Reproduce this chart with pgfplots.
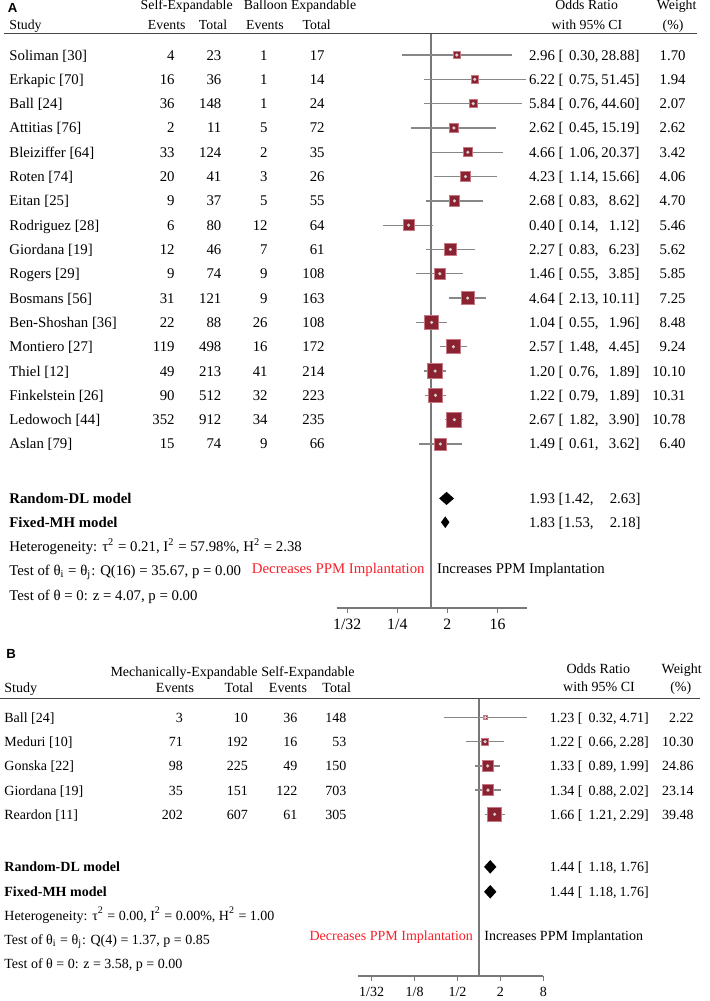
\documentclass[border=0pt]{standalone}
\usepackage{fontspec}
\setmainfont{Liberation Serif}
\newfontfamily\lsans{Liberation Sans}
\usepackage{pgfplots}
\pgfplotsset{compat=1.18}
\usepackage{pgfplotstable}

\definecolor{mk}{RGB}{139,34,50}
\definecolor{mkb}{RGB}{200,120,130}
\definecolor{cig}{RGB}{135,135,135}
\definecolor{dotc}{RGB}{210,210,210}
\definecolor{vl}{RGB}{120,120,120}
\definecolor{rulec}{RGB}{70,70,70}
\definecolor{redt}{RGB}{250,30,40}

\newcommand{\fb}{\fontsize{7.4pt}{8pt}\selectfont}
\newcommand{\fh}{\fontsize{6.9pt}{8pt}\selectfont}
\newcommand{\fbB}{\fontsize{7.0pt}{8pt}\selectfont}

% Panel A: row (negative index), OR, lower, upper, weight, mark size (pt)
\pgfplotstableread{
row or lo hi w ms
-1 2.96 0.30 28.88 1.70 1.80
-2 6.22 0.75 51.45 1.94 1.88
-3 5.84 0.76 44.60 2.07 1.93
-4 2.62 0.45 15.19 2.62 2.11
-5 4.66 1.06 20.37 3.42 2.34
-6 4.23 1.14 15.66 4.06 2.50
-7 2.68 0.83 8.62 4.70 2.65
-8 0.40 0.14 1.12 5.46 2.82
-9 2.27 0.83 6.23 5.62 2.85
-10 1.46 0.55 3.85 5.85 2.90
-11 4.64 2.13 10.11 7.25 3.17
-12 1.04 0.55 1.96 8.48 3.39
-13 2.57 1.48 4.45 9.24 3.52
-14 1.20 0.76 1.89 10.10 3.66
-15 1.22 0.79 1.89 10.31 3.69
-16 2.67 1.82 3.90 10.78 3.76
-17 1.49 0.61 3.62 6.40 3.01
}\dataA

\pgfplotstableread{
row or lo hi w ms
-1 1.23 0.32 4.71 2.22 0.85
-2 1.22 0.66 2.28 10.30 1.85
-3 1.33 0.89 1.99 24.86 2.88
-4 1.34 0.88 2.02 23.14 2.78
-5 1.66 1.21 2.29 39.48 3.60
}\dataB

\pgfplotsset{
  cil/.style={cig, line width=0.65pt, mark=none, forget plot},
  sq/.style={scatter, only marks, mark=square*,
    scatter/use mapped color={draw=mkb, fill=mk},
    line width=0.45pt,
    visualization depends on={\thisrow{ms}\as\msz},
    scatter/@pre marker code/.append style={/tikz/mark size=\msz pt}},
  dt/.style={scatter, only marks, mark=*, mark size=0.75pt,
    scatter/use mapped color={draw=dotc, fill=dotc}, line width=0.1pt},
}

\begin{document}
\begin{tikzpicture}
\useasboundingbox (0,0) rectangle (354.5pt,-500.5pt);

% ---------------- Panel A plot ----------------
\begin{axis}[
  scale only axis, clip=false, xmode=log, log basis x=2,
  axis x line=bottom, axis y line=none,
  tick align=outside, major tick length=2.4pt,
  xtick style={draw=vl, line width=0.6pt},
  minor xtick={}, ytick=\empty,
  at={(168.35pt,-303.85pt)}, anchor=south west,
  width=95pt, height=287.2pt,
  xmin=0.02019, xmax=53.77, ymin=-23.735, ymax=-0.107,
  x axis line style={-, draw=vl, line width=0.9pt},
  xtick={0.03125,0.25,2,16}, xticklabels={1/32,1/4,2,16},
  xticklabel style={font=\fontsize{7.9pt}{8pt}\selectfont, anchor=base, yshift=-8.3pt, inner sep=0pt},
]
\addplot[vl, line width=0.9pt, mark=none] coordinates {(1,-0.107) (1,-23.735)};
\addplot[cil] coordinates {(0.30,-1) (28.88,-1)};
\addplot[cil] coordinates {(0.75,-2) (51.45,-2)};
\addplot[cil] coordinates {(0.76,-3) (44.60,-3)};
\addplot[cil] coordinates {(0.45,-4) (15.19,-4)};
\addplot[cil] coordinates {(1.06,-5) (20.37,-5)};
\addplot[cil] coordinates {(1.14,-6) (15.66,-6)};
\addplot[cil] coordinates {(0.83,-7) (8.62,-7)};
\addplot[cil] coordinates {(0.14,-8) (1.12,-8)};
\addplot[cil] coordinates {(0.83,-9) (6.23,-9)};
\addplot[cil] coordinates {(0.55,-10) (3.85,-10)};
\addplot[cil] coordinates {(2.13,-11) (10.11,-11)};
\addplot[cil] coordinates {(0.55,-12) (1.96,-12)};
\addplot[cil] coordinates {(1.48,-13) (4.45,-13)};
\addplot[cil] coordinates {(0.76,-14) (1.89,-14)};
\addplot[cil] coordinates {(0.79,-15) (1.89,-15)};
\addplot[cil] coordinates {(1.82,-16) (3.90,-16)};
\addplot[cil] coordinates {(0.61,-17) (3.62,-17)};
\addplot[sq] table[x=or, y=row] {\dataA};
\addplot[dt] table[x=or, y=row] {\dataA};
\addplot[fill=black, draw=none, mark=none] coordinates {(1.42,-19.24) (1.93,-18.97) (2.63,-19.24) (1.93,-19.51)} --cycle;
\addplot[fill=black, draw=none, mark=none] coordinates {(1.53,-20.22) (1.83,-19.98) (2.18,-20.22) (1.83,-20.46)} --cycle;
\end{axis}

% ---------------- Panel B plot ----------------
\begin{axis}[
  scale only axis, clip=false, xmode=log, log basis x=2,
  axis x line=bottom, axis y line=none,
  tick align=outside, major tick length=2.4pt,
  xtick style={draw=vl, line width=0.6pt},
  minor xtick={}, ytick=\empty,
  at={(179.15pt,-488pt)}, anchor=south west,
  width=92.5pt, height=138.85pt,
  xmin=0.02030, xmax=8, ymin=-11.68, ymax=-0.207,
  x axis line style={-, draw=vl, line width=0.7pt},
  xtick={0.03125,0.125,0.5,2,8}, xticklabels={1/32,1/8,1/2,2,8},
  xticklabel style={font=\fontsize{7.0pt}{8pt}\selectfont, anchor=base, yshift=-7.6pt, inner sep=0pt},
]
\addplot[vl, line width=0.7pt, mark=none] coordinates {(1,-0.207) (1,-11.68)};
\addplot[cil] coordinates {(0.32,-1) (4.71,-1)};
\addplot[cil] coordinates {(0.66,-2) (2.28,-2)};
\addplot[cil] coordinates {(0.89,-3) (1.99,-3)};
\addplot[cil] coordinates {(0.88,-4) (2.02,-4)};
\addplot[cil] coordinates {(1.21,-5) (2.29,-5)};
\addplot[sq] table[x=or, y=row] {\dataB};
\addplot[dt] table[x=or, y=row] {\dataB};
\addplot[fill=black, draw=none, mark=none] coordinates {(1.18,-7.17) (1.44,-6.89) (1.76,-7.17) (1.44,-7.45)} --cycle;
\addplot[fill=black, draw=none, mark=none] coordinates {(1.18,-8.20) (1.44,-7.92) (1.76,-8.20) (1.44,-8.48)} --cycle;
\end{axis}

% ---------------- Text (pixel grid: 1px = 0.5pt, y down) ----------------
\begin{scope}[x=0.5pt, y=-0.5pt, every node/.style={inner sep=0pt, font=\fb}]
% Panel A header
\node[anchor=base west, font=\lsans\bfseries\fontsize{6.6pt}{8pt}\selectfont] at (7.5,12.5) {A};
\node[anchor=base, font=\fh] at (186.7,10) {Self-Expandable};
\node[anchor=base, font=\fh] at (300,10) {Balloon Expandable};
\node[anchor=base west, font=\fh] at (9,29.5) {Study};
\node[anchor=base, font=\fh] at (166.7,29.5) {Events};
\node[anchor=base, font=\fh] at (213,29.5) {Total};
\node[anchor=base, font=\fh] at (265,29.5) {Events};
\node[anchor=base, font=\fh] at (316.7,29.5) {Total};
\node[anchor=base, font=\fh] at (586.7,10) {Odds Ratio};
\node[anchor=base, font=\fh] at (587,29.5) {with 95\% CI};
\node[anchor=base, font=\fh] at (676.7,10) {Weight};
\node[anchor=base, font=\fh] at (673,29.5) {(\%)};
\draw[rulec, line width=0.75pt] (4,33.3) -- (697,33.3);

\foreach [count=\i] \nm/\ea/\ta/\eb/\tb/\est/\vlo/\vhi/\wt in {
 {Soliman [30]}/4/23/1/17/2.96/0.30/28.88/1.70,
 {Erkapic [70]}/16/36/1/14/6.22/0.75/51.45/1.94,
 {Ball [24]}/36/148/1/24/5.84/0.76/44.60/2.07,
 {Attitias [76]}/2/11/5/72/2.62/0.45/15.19/2.62,
 {Bleiziffer [64]}/33/124/2/35/4.66/1.06/20.37/3.42,
 {Roten [74]}/20/41/3/26/4.23/1.14/15.66/4.06,
 {Eitan [25]}/9/37/5/55/2.68/0.83/8.62/4.70,
 {Rodriguez [28]}/6/80/12/64/0.40/0.14/1.12/5.46,
 {Giordana [19]}/12/46/7/61/2.27/0.83/6.23/5.62,
 {Rogers [29]}/9/74/9/108/1.46/0.55/3.85/5.85,
 {Bosmans [56]}/31/121/9/163/4.64/2.13/10.11/7.25,
 {Ben-Shoshan [36]}/22/88/26/108/1.04/0.55/1.96/8.48,
 {Montiero [27]}/119/498/16/172/2.57/1.48/4.45/9.24,
 {Thiel [12]}/49/213/41/214/1.20/0.76/1.89/10.10,
 {Finkelstein [26]}/90/512/32/223/1.22/0.79/1.89/10.31,
 {Ledowoch [44]}/352/912/34/235/2.67/1.82/3.90/10.78,
 {Aslan [79]}/15/74/9/66/1.49/0.61/3.62/6.40}
{
 \pgfmathsetmacro\yy{60+24.31*(\i-1)}
 \node[anchor=base west] at (9,\yy) {\nm};
 \node[anchor=base east] at (175,\yy) {\ea};
 \node[anchor=base east] at (221.7,\yy) {\ta};
 \node[anchor=base east] at (268,\yy) {\eb};
 \node[anchor=base east] at (325,\yy) {\tb};
 \node[anchor=base east] at (564,\yy) {\est\ [};
 \node[anchor=base east] at (599,\yy) {\vlo,};
 \node[anchor=base east] at (640,\yy) {\vhi]};
 \node[anchor=base east] at (686,\yy) {\wt};
}
\node[anchor=base west, font=\fb\bfseries] at (9,503.3) {Random-DL model};
\node[anchor=base west, font=\fb\bfseries] at (9,527.5) {Fixed-MH model};
\node[anchor=base east] at (564,503.3) {1.93 [};
\node[anchor=base east] at (594,503.3) {1.42,};
\node[anchor=base east] at (641,503.3) {2.63]};
\node[anchor=base east] at (564,527.5) {1.83 [};
\node[anchor=base east] at (594,527.5) {1.53,};
\node[anchor=base east] at (641,527.5) {2.18]};
\node[anchor=base west] at (9,551.7) {Heterogeneity: τ\textsuperscript{2} = 0.21, I\textsuperscript{2} = 57.98\%, H\textsuperscript{2} = 2.38};
\node[anchor=base west] at (9,575.3) {Test of θ\textsubscript{i} = θ\textsubscript{j}: Q(16) = 35.67, p = 0.00};
\node[anchor=base west] at (9,600) {Test of θ = 0: z = 4.07, p = 0.00};
\node[anchor=base east, text=redt] at (425,573.3) {Decreases PPM Implantation};
\node[anchor=base west] at (436.7,573.3) {Increases PPM Implantation};

% Panel B header
\node[anchor=base west, font=\lsans\bfseries\fontsize{6.6pt}{8pt}\selectfont] at (6,658.5) {B};
\node[anchor=base, font=\fbB] at (184,676) {Mechanically-Expandable};
\node[anchor=base, font=\fbB] at (308,676) {Self-Expandable};
\node[anchor=base west, font=\fbB] at (4,692) {Study};
\node[anchor=base, font=\fbB] at (175,692) {Events};
\node[anchor=base, font=\fbB] at (239,692) {Total};
\node[anchor=base, font=\fbB] at (288,692) {Events};
\node[anchor=base, font=\fbB] at (336.7,692) {Total};
\node[anchor=base, font=\fbB] at (598.3,673) {Odds Ratio};
\node[anchor=base, font=\fbB] at (599,691.5) {with 95\% CI};
\node[anchor=base, font=\fbB] at (681.7,673) {Weight};
\node[anchor=base, font=\fbB] at (680.8,691.5) {(\%)};
\draw[rulec, line width=0.75pt] (0,698.3) -- (700,698.3);

\foreach [count=\i] \nm/\ea/\ta/\eb/\tb/\est/\vlo/\vhi/\wt in {
 {Ball [24]}/3/10/36/148/1.23/0.32/4.71/2.22,
 {Meduri [10]}/71/192/16/53/1.22/0.66/2.28/10.30,
 {Gonska [22]}/98/225/49/150/1.33/0.89/1.99/24.86,
 {Giordana [19]}/35/151/122/703/1.34/0.88/2.02/23.14,
 {Reardon [11]}/202/607/61/305/1.66/1.21/2.29/39.48}
{
 \pgfmathsetmacro\yy{722.5+24.2*(\i-1)}
 \node[anchor=base west, font=\fbB] at (4,\yy) {\nm};
 \node[anchor=base east, font=\fbB] at (183.3,\yy) {\ea};
 \node[anchor=base east, font=\fbB] at (248.3,\yy) {\ta};
 \node[anchor=base east, font=\fbB] at (297.7,\yy) {\eb};
 \node[anchor=base east, font=\fbB] at (346.7,\yy) {\tb};
 \node[anchor=base east, font=\fbB] at (583,\yy) {\est\ [};
 \node[anchor=base east, font=\fbB] at (617,\yy) {\vlo,};
 \node[anchor=base east, font=\fbB] at (649.3,\yy) {\vhi]};
 \node[anchor=base east, font=\fbB] at (694,\yy) {\wt};
}
\node[anchor=base west, font=\fbB\bfseries] at (4,871.7) {Random-DL model};
\node[anchor=base west, font=\fbB\bfseries] at (4,896.7) {Fixed-MH model};
\node[anchor=base east, font=\fbB] at (583,871.7) {1.44 [};
\node[anchor=base east, font=\fbB] at (617,871.7) {1.18,};
\node[anchor=base east, font=\fbB] at (649.3,871.7) {1.76]};
\node[anchor=base east, font=\fbB] at (583,896.7) {1.44 [};
\node[anchor=base east, font=\fbB] at (617,896.7) {1.18,};
\node[anchor=base east, font=\fbB] at (649.3,896.7) {1.76]};
\node[anchor=base west, font=\fbB] at (4,920) {Heterogeneity: τ\textsuperscript{2} = 0.00, I\textsuperscript{2} = 0.00\%, H\textsuperscript{2} = 1.00};
\node[anchor=base west, font=\fbB] at (4,944.3) {Test of θ\textsubscript{i} = θ\textsubscript{j}: Q(4) = 1.37, p = 0.85};
\node[anchor=base west, font=\fbB] at (4,968.3) {Test of θ = 0: z = 3.58, p = 0.00};
\node[anchor=base east, text=redt, font=\fbB] at (473.3,940) {Decreases PPM Implantation};
\node[anchor=base west, font=\fbB] at (484,940) {Increases PPM Implantation};
\end{scope}
\end{tikzpicture}
\end{document}
